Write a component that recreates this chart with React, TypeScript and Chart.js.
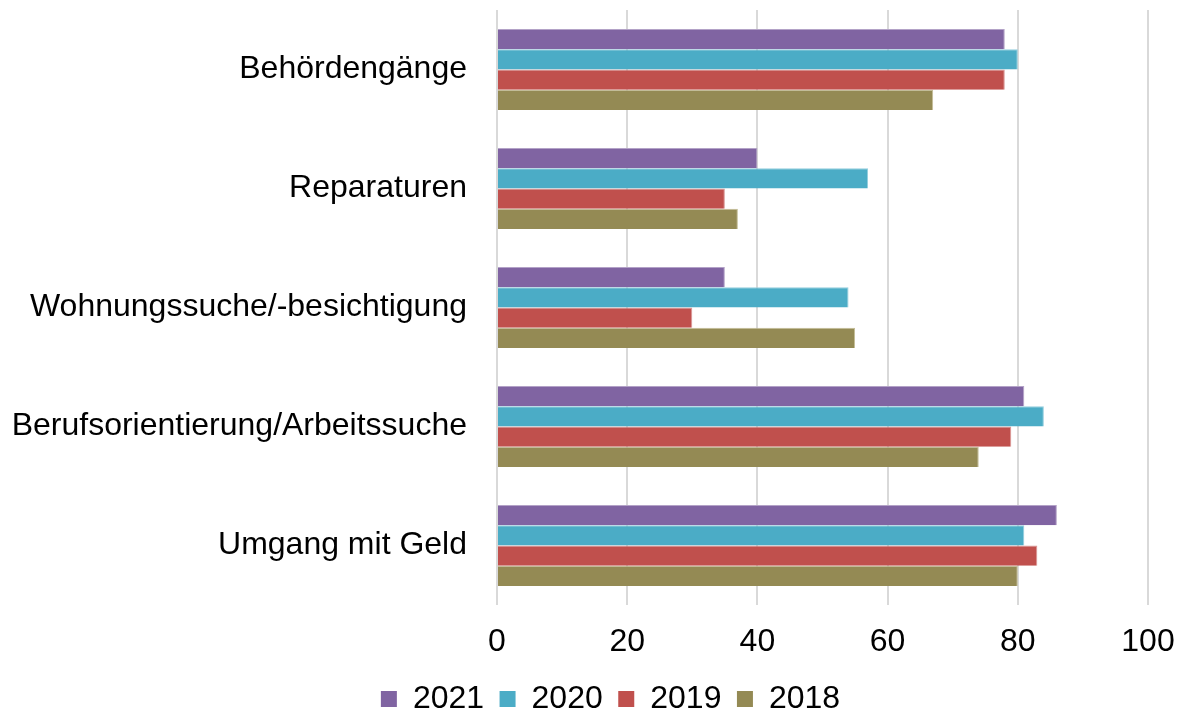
import React, { useEffect, useRef } from "react";
import { Chart, registerables } from "chart.js";

Chart.register(...registerables);

const categories = [
  "Behördengänge",
  "Reparaturen",
  "Wohnungssuche/-besichtigung",
  "Berufsorientierung/Arbeitssuche",
  "Umgang mit Geld",
];
const seriesLabels = ["2021", "2020", "2019", "2018"];
const values2021 = [78, 40, 35, 81, 86];
const values2020 = [80, 57, 54, 84, 81];
const values2019 = [78, 35, 30, 79, 83];
const values2018 = [67, 37, 55, 74, 80];
const seriesColors = ["#8064A2", "#4BACC6", "#C0504D", "#948A54"];
const seriesBorders = ["#B3A2C7", "#93CDDD", "#D99694", "#C4BD97"];
const xTicks = [0, 20, 40, 60, 80, 100];

const FONT = "Liberation Sans, Arial, sans-serif";

const legendShift = {
  id: "legendShift",
  afterLayout(chart: any) {
    const lg = chart.legend;
    if (lg) {
      lg.left += 46;
      lg.top += 6;
      lg.bottom += 6;
    }
  },
};

export default function App() {
  const ref = useRef<HTMLCanvasElement | null>(null);
  useEffect(() => {
    if (!ref.current) return;
    const all = [values2021, values2020, values2019, values2018];
    const chart = new Chart(ref.current, {
      type: "bar",
      plugins: [legendShift],
      data: {
        labels: categories,
        datasets: all.map((v, i) => ({
          label: seriesLabels[i],
          data: v,
          backgroundColor: seriesColors[i],
          borderColor: seriesBorders[i],
          borderWidth: { top: 1, right: 1, bottom: 0, left: 0 },
          categoryPercentage: 0.68,
          barPercentage: 1.0,
        })),
      },
      options: {
        indexAxis: "y",
        animation: false,
        responsive: false,
        maintainAspectRatio: false,
        layout: { padding: { top: 10, right: 2, left: 0, bottom: -7 } },
        scales: {
          x: {
            min: 0,
            max: 100,
            afterBuildTicks: (axis: any) => {
              axis.ticks = xTicks.map((v) => ({ value: v }));
            },
            afterFit: (s: any) => {
              s.paddingRight = 29;
            },
            grid: {
              color: "#d9d9d9",
              lineWidth: 2,
              drawTicks: true,
              tickLength: 18,
              tickColor: "rgba(0,0,0,0)",
            },
            border: { display: false },
            ticks: {
              padding: 0,
              color: "#000",
              font: { family: FONT, size: 32 },
            },
          },
          y: {
            afterFit: (s: any) => {
              s.width = 497;
            },
            grid: {
              display: true,
              drawOnChartArea: false,
              drawTicks: true,
              tickLength: 30,
              color: "rgba(0,0,0,0)",
              tickColor: "rgba(0,0,0,0)",
            },
            border: { display: false },
            ticks: {
              padding: 0,
              color: "#000",
              font: { family: FONT, size: 32, lineHeight: 0.5 },
            },
          },
        },
        plugins: {
          tooltip: { enabled: false },
          legend: {
            position: "bottom",
            labels: {
              boxWidth: 16,
              boxHeight: 16,
              padding: 15.5,
              color: "#000",
              font: { family: FONT, size: 32 },
              generateLabels: (c: any) =>
                c.data.datasets.map((d: any, i: number) => ({
                  text: d.label,
                  fillStyle: seriesColors[i],
                  strokeStyle: seriesColors[i],
                  lineWidth: 0,
                  datasetIndex: i,
                  fontColor: "#000",
                })),
            },
          },
        },
      },
    });
    return () => chart.destroy();
  }, []);
  return (
    <div style={{ position: "absolute", left: 0, top: 0, width: 1177, height: 712, background: "#fff" }}>
      <canvas ref={ref} width={1177} height={712} style={{ width: 1177, height: 712 }} />
    </div>
  );
}
